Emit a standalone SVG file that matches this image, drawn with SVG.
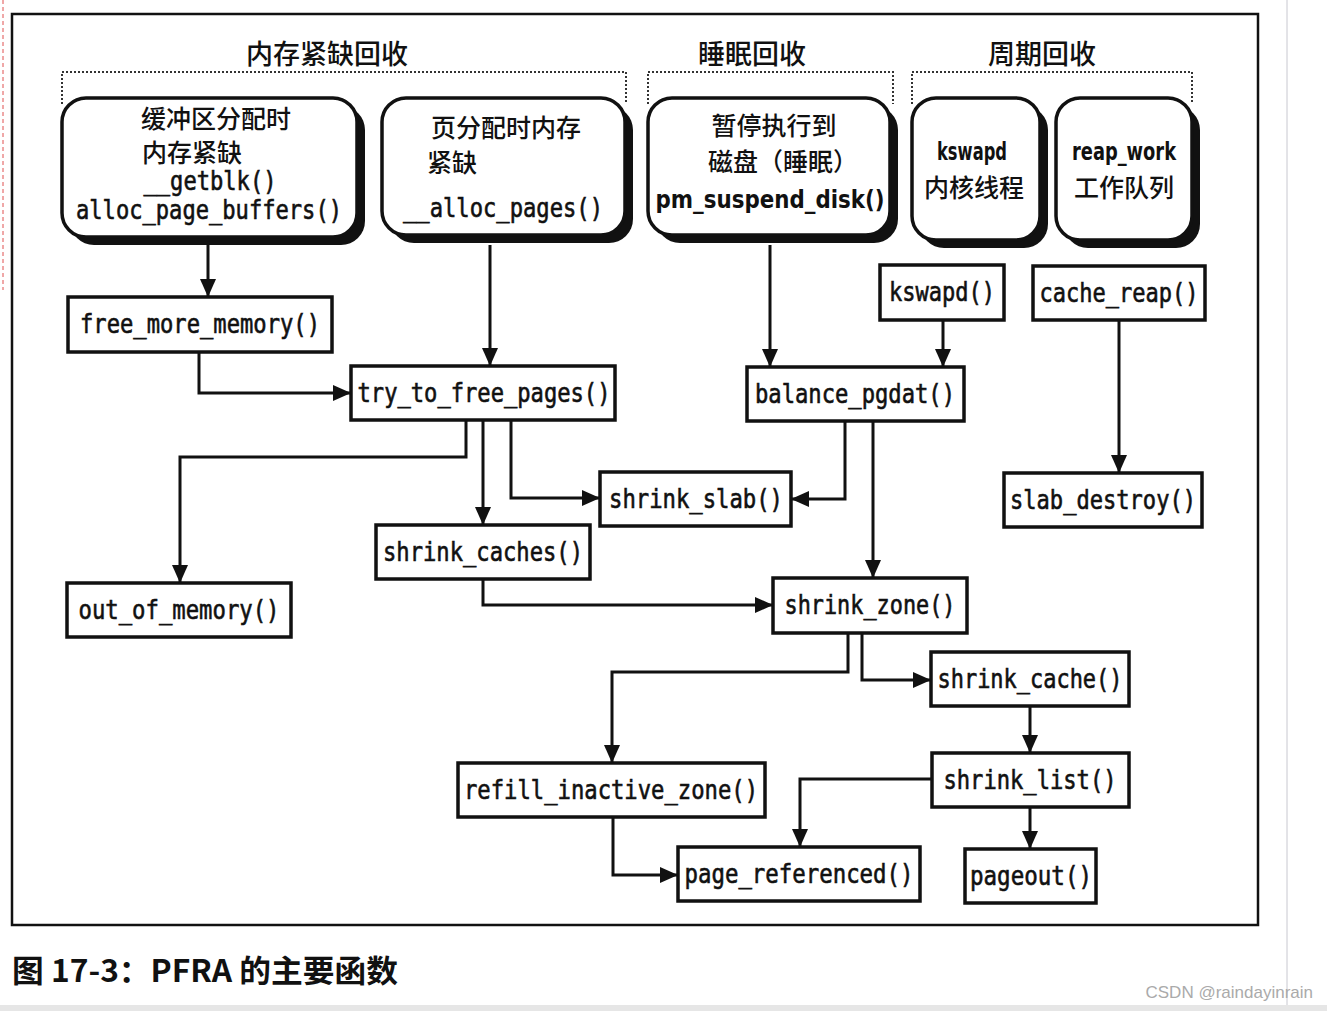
<svg xmlns="http://www.w3.org/2000/svg" width="1327" height="1011" viewBox="0 0 1327 1011">
<style>
.node rect{fill:#fff;stroke:#111;stroke-width:3.5}
.rbox .sh{fill:#111;stroke:none}
.rbox .bx{fill:#fff;stroke:#111;stroke-width:3.5}
.mono{font-family:"DejaVu Sans Mono","Liberation Mono",monospace;font-size:26px;fill:#111;stroke:#111;stroke-width:0.6;text-anchor:middle}
.sans{font-family:"DejaVu Sans","Liberation Sans",sans-serif;font-size:25px;font-weight:bold;fill:#111;text-anchor:middle}
.cjk{font-family:"Noto Sans CJK SC","Noto Sans",sans-serif;font-size:25px;font-weight:500;fill:#111;text-anchor:middle}
.head{font-family:"Noto Sans CJK SC","Noto Sans",sans-serif;font-size:27px;font-weight:500;fill:#111;text-anchor:middle}
.dot{fill:none;stroke:#333;stroke-width:2;stroke-dasharray:2 2}
#connectors path{fill:none;stroke:#111;stroke-width:3;marker-end:url(#arr)}
</style>
<defs>
<marker id="arr" markerUnits="userSpaceOnUse" markerWidth="18" markerHeight="16" refX="18" refY="8" orient="auto">
<path d="M0,0 L18,8 L0,16 z" fill="#111"/>
</marker>
</defs>
<rect x="0" y="0" width="1327" height="1011" fill="#fff"/>
<line x1="3" y1="0" x2="3" y2="290" stroke="#e05050" stroke-width="1" stroke-dasharray="4 3"/>
<line x1="1287" y1="0" x2="1287" y2="1005" stroke="#c8c8d0" stroke-width="1"/>
<rect x="0" y="1005" width="1327" height="6" fill="#e6e6e6"/>
<rect x="12" y="14" width="1246" height="911" fill="none" stroke="#111" stroke-width="2.5"/>

<g id="group-labels">
<text class="head" x="327" y="64">内存紧缺回收</text>
<text class="head" x="752" y="64">睡眠回收</text>
<text class="head" x="1042" y="64">周期回收</text>
<path class="dot" d="M62,104 V72 H626 V104"/>
<path class="dot" d="M648,104 V72 H893 V104"/>
<path class="dot" d="M912,104 V72 H1192 V104"/>
</g>

<g id="box-buffer" class="rbox">
<rect class="sh" x="70" y="106" width="295" height="139" rx="24"/>
<rect class="bx" x="62" y="98" width="295" height="139" rx="24"/>
<text class="cjk" x="216" y="128" font-size="23">缓冲区分配时</text>
<text class="cjk" x="192" y="162" font-size="23">内存紧缺</text>
<text class="mono" x="210" y="190" textLength="133" lengthAdjust="spacingAndGlyphs">__getblk()</text>
<text class="mono" x="209" y="219" textLength="266" lengthAdjust="spacingAndGlyphs">alloc_page_buffers()</text>
</g>
<g id="box-page" class="rbox">
<rect class="sh" x="390" y="106" width="243" height="137" rx="24"/>
<rect class="bx" x="382" y="98" width="243" height="137" rx="24"/>
<text class="cjk" x="506" y="137" font-size="27">页分配时内存</text>
<text class="cjk" x="452" y="172" font-size="27">紧缺</text>
<text class="mono" x="503" y="217" textLength="200" lengthAdjust="spacingAndGlyphs">__alloc_pages()</text>
</g>
<g id="box-suspend" class="rbox">
<rect class="sh" x="656" y="106" width="242" height="137" rx="24"/>
<rect class="bx" x="648" y="98" width="242" height="137" rx="24"/>
<text class="cjk" x="774" y="135" font-size="27">暂停执行到</text>
<text class="cjk" x="783" y="171" font-size="26">磁盘（睡眠）</text>
<text class="sans" x="770" y="208" textLength="229" lengthAdjust="spacingAndGlyphs">pm_suspend_disk()</text>
</g>
<g id="box-kswapd" class="rbox">
<rect class="sh" x="920" y="106" width="128" height="142" rx="24"/>
<rect class="bx" x="912" y="98" width="128" height="142" rx="24"/>
<text class="sans" x="972" y="160" textLength="70" lengthAdjust="spacingAndGlyphs">kswapd</text>
<text class="cjk" x="974" y="197" font-size="26">内核线程</text>
</g>
<g id="box-reap" class="rbox">
<rect class="sh" x="1064" y="106" width="136" height="142" rx="24"/>
<rect class="bx" x="1056" y="98" width="136" height="142" rx="24"/>
<text class="sans" x="1124" y="160" textLength="104" lengthAdjust="spacingAndGlyphs">reap_work</text>
<text class="cjk" x="1124" y="197" font-size="26">工作队列</text>
</g>

<g id="free_more_memory" class="node"><rect x="68" y="297" width="264" height="55"/><text class="mono" x="200" y="333" textLength="240" lengthAdjust="spacingAndGlyphs">free_more_memory()</text></g>
<g id="try_to_free_pages" class="node"><rect x="351" y="366" width="264" height="54"/><text class="mono" x="484" y="402" textLength="253" lengthAdjust="spacingAndGlyphs">try_to_free_pages()</text></g>
<g id="kswapd" class="node"><rect x="880" y="265" width="124" height="55"/><text class="mono" x="942" y="301" textLength="106" lengthAdjust="spacingAndGlyphs">kswapd()</text></g>
<g id="cache_reap" class="node"><rect x="1033" y="266" width="172" height="54"/><text class="mono" x="1119" y="302" textLength="159" lengthAdjust="spacingAndGlyphs">cache_reap()</text></g>
<g id="balance_pgdat" class="node"><rect x="747" y="367" width="217" height="54"/><text class="mono" x="855" y="403" textLength="200" lengthAdjust="spacingAndGlyphs">balance_pgdat()</text></g>
<g id="shrink_slab" class="node"><rect x="600" y="472" width="191" height="54"/><text class="mono" x="696" y="508" textLength="174" lengthAdjust="spacingAndGlyphs">shrink_slab()</text></g>
<g id="slab_destroy" class="node"><rect x="1004" y="473" width="198" height="54"/><text class="mono" x="1103" y="509" textLength="186" lengthAdjust="spacingAndGlyphs">slab_destroy()</text></g>
<g id="shrink_caches" class="node"><rect x="376" y="525" width="214" height="54"/><text class="mono" x="483" y="561" textLength="200" lengthAdjust="spacingAndGlyphs">shrink_caches()</text></g>
<g id="out_of_memory" class="node"><rect x="67" y="583" width="224" height="54"/><text class="mono" x="179" y="619" textLength="201" lengthAdjust="spacingAndGlyphs">out_of_memory()</text></g>
<g id="shrink_zone" class="node"><rect x="773" y="578" width="194" height="55"/><text class="mono" x="870" y="614" textLength="171" lengthAdjust="spacingAndGlyphs">shrink_zone()</text></g>
<g id="shrink_cache" class="node"><rect x="931" y="652" width="198" height="54"/><text class="mono" x="1030" y="688" textLength="185" lengthAdjust="spacingAndGlyphs">shrink_cache()</text></g>
<g id="refill_inactive_zone" class="node"><rect x="458" y="763" width="307" height="54"/><text class="mono" x="611" y="799" textLength="294" lengthAdjust="spacingAndGlyphs">refill_inactive_zone()</text></g>
<g id="shrink_list" class="node"><rect x="932" y="753" width="197" height="54"/><text class="mono" x="1030" y="789" textLength="173" lengthAdjust="spacingAndGlyphs">shrink_list()</text></g>
<g id="page_referenced" class="node"><rect x="678" y="847" width="242" height="54"/><text class="mono" x="799" y="883" textLength="229" lengthAdjust="spacingAndGlyphs">page_referenced()</text></g>
<g id="pageout" class="node"><rect x="965" y="849" width="131" height="54"/><text class="mono" x="1031" y="885" textLength="122" lengthAdjust="spacingAndGlyphs">pageout()</text></g>

<g id="connectors">
<path d="M208,245 V297"/>
<path d="M490,245 V366"/>
<path d="M199,352 V393 H351"/>
<path d="M770,245 V367"/>
<path d="M943,320 V367"/>
<path d="M1119,320 V473"/>
<path d="M466,420 V457 H180 V583"/>
<path d="M483,420 V525"/>
<path d="M511,420 V498 H600"/>
<path d="M845,421 V499 H791"/>
<path d="M873,421 V578"/>
<path d="M483,579 V605 H773"/>
<path d="M848,633 V672 H612 V763"/>
<path d="M862,633 V680 H931"/>
<path d="M1030,706 V753"/>
<path d="M932,779 H800 V847"/>
<path d="M1030,807 V849"/>
<path d="M613,817 V875 H678"/>
</g>

<text x="12" y="982" font-family="'Noto Sans CJK SC','Noto Sans',sans-serif" font-size="31" font-weight="bold" fill="#111" textLength="386" lengthAdjust="spacingAndGlyphs">图 17-3：PFRA 的主要函数</text>
<text x="1313" y="998" text-anchor="end" font-family="'Liberation Sans','DejaVu Sans',sans-serif" font-size="17" fill="#aaa">CSDN @raindayinrain</text>
</svg>
